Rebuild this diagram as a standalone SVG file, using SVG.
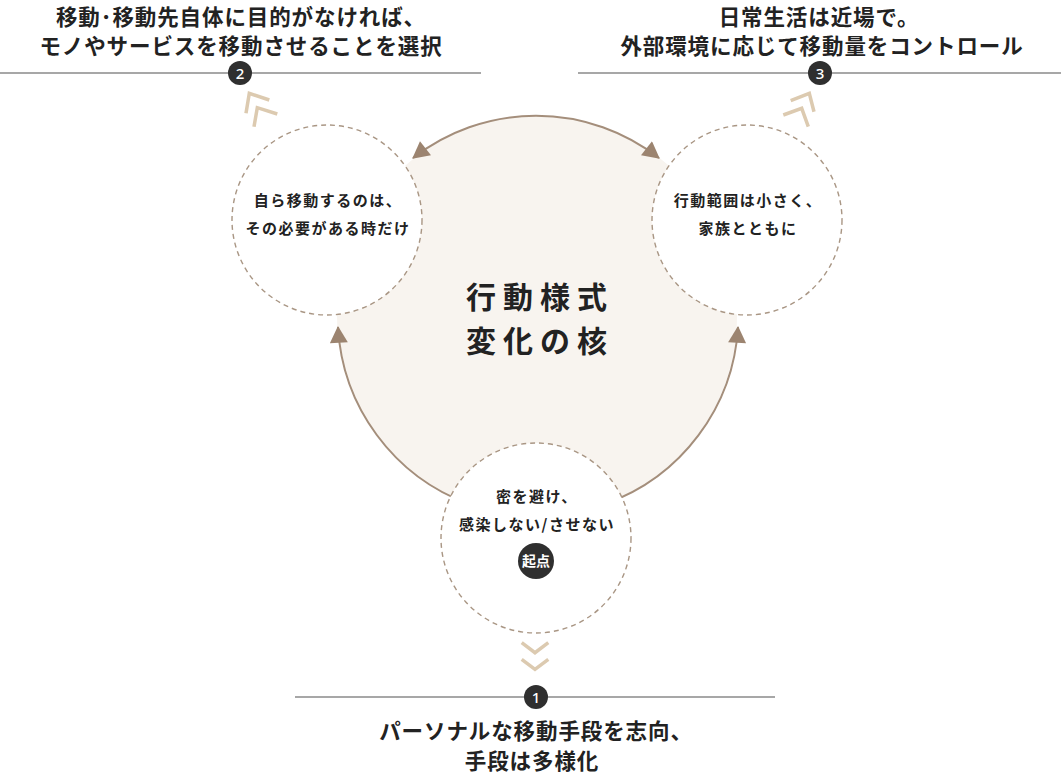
<svg xmlns="http://www.w3.org/2000/svg" width="1061" height="781" viewBox="0 0 1061 781">
<style>
text{font-family:"Noto Sans CJK JP","Noto Sans",sans-serif;fill:#222;text-anchor:middle}
.h{font-size:21.5px;font-weight:700;letter-spacing:0.9px}
.c{font-size:15px;font-weight:700;letter-spacing:1.5px}
.core{font-size:30px;font-weight:700;letter-spacing:7px}
.node{fill:#fff;stroke:#a99684;stroke-width:1.4;stroke-dasharray:5 4}
.arc{fill:none;stroke:#a48e7b;stroke-width:2}
.chev{fill:none;stroke:#dccab0;stroke-width:3.5}
.rule{stroke:#8a8a8a;stroke-width:1.4}
.badge{fill:#2f2f2f}
.num{font-size:15px;fill:#fff;font-weight:500;font-family:"Noto Sans","Liberation Sans",sans-serif}
</style>
<defs>
<marker id="ah" markerUnits="userSpaceOnUse" markerWidth="18" markerHeight="18" viewBox="0 0 16 17" refX="15" refY="8.5" orient="auto-start-reverse">
<path d="M0,0 L16,8.5 L0,17 z" fill="#9c8470"/>
</marker>
</defs>
<rect width="1061" height="781" fill="#fff"/>
<g id="core">
<circle cx="537" cy="316" r="200" fill="#f8f4ef"/>
</g>
<g id="connectors">
<path class="arc" d="M413,158 A200,200 0 0 1 659,158" marker-start="url(#ah)" marker-end="url(#ah)"/>
<path class="arc" d="M468.6,503.9 A200,200 0 0 1 338,327" marker-end="url(#ah)"/>
<path class="arc" d="M605.4,503.9 A200,200 0 0 0 738,327" marker-end="url(#ah)"/>
</g>
<g id="core-label">
<text class="core" x="540" y="308">行動様式</text>
<text class="core" x="540" y="352">変化の核</text>
</g>
<g id="node-left">
<circle class="node" cx="327" cy="220" r="95"/>
<text class="c" x="328" y="206">自ら移動するのは、</text>
<text class="c" x="328" y="234">その必要がある時だけ</text>
</g>
<g id="node-right">
<circle class="node" cx="747" cy="220" r="95"/>
<text class="c" x="748" y="206">行動範囲は小さく、</text>
<text class="c" x="748" y="234">家族とともに</text>
</g>
<g id="node-bottom">
<circle class="node" cx="536" cy="538" r="95"/>
<text class="c" x="537" y="502">密を避け、</text>
<text class="c" x="537" y="530">感染しない/させない</text>
<circle class="badge" cx="536" cy="561" r="18"/>
<text x="536" y="566" style="font-size:14px;font-weight:700;fill:#fff">起点</text>
</g>
<g id="chevrons">
<polyline class="chev" points="269.3,100 249.3,93.3 246,113.3"/>
<polyline class="chev" points="277.3,114 257.3,107.7 254,126.7"/>
<polyline class="chev" points="790.7,100.7 809.3,93.3 814,111.7"/>
<polyline class="chev" points="783.3,115 801.7,108.3 808.3,126.7"/>
<polyline class="chev" points="521.7,642.7 535,652.7 548.3,642.7"/>
<polyline class="chev" points="521.7,659.3 535,669.3 548.3,659.3"/>
</g>
<g id="header-2">
<text class="h" x="241" y="25">移動･移動先自体に目的がなければ、</text>
<text class="h" x="241" y="54">モノやサービスを移動させることを選択</text>
<line class="rule" x1="0" y1="73" x2="481" y2="73"/>
<circle class="badge" cx="240" cy="73" r="12"/>
<text class="num" x="240" y="78.5">2</text>
</g>
<g id="header-3">
<text class="h" x="819" y="25">日常生活は近場で。</text>
<text class="h" x="822" y="54">外部環境に応じて移動量をコントロール</text>
<line class="rule" x1="578" y1="73" x2="1061" y2="73"/>
<circle class="badge" cx="820" cy="73" r="12"/>
<text class="num" x="820" y="78.5">3</text>
</g>
<g id="header-1">
<line class="rule" x1="295" y1="697" x2="775" y2="697"/>
<circle class="badge" cx="536" cy="697" r="12"/>
<text class="num" x="536" y="702.5">1</text>
<text class="h" x="536" y="739">パーソナルな移動手段を志向、</text>
<text class="h" x="532" y="769">手段は多様化</text>
</g>
</svg>
